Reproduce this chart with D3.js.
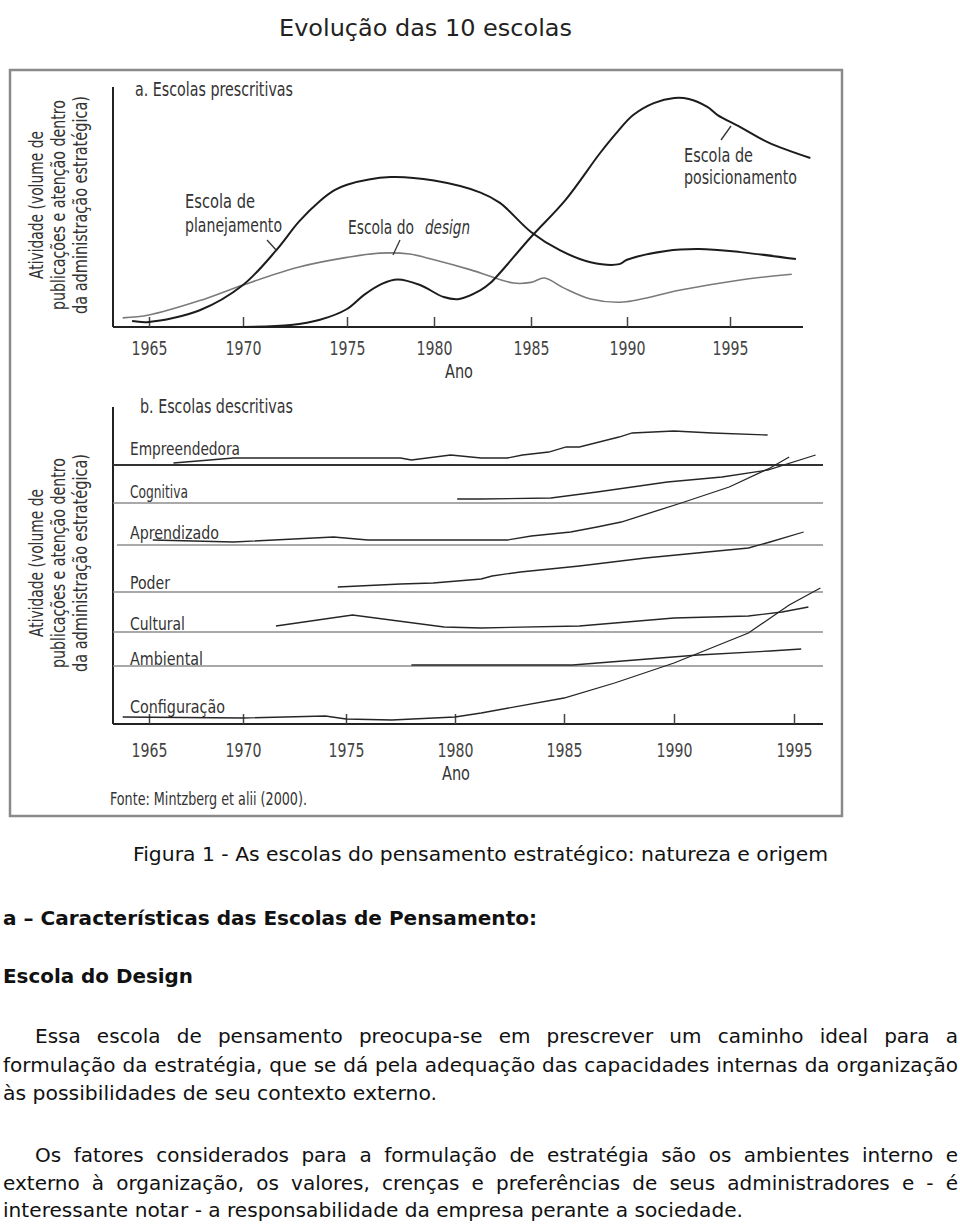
<!DOCTYPE html>
<html><head><meta charset="utf-8">
<script src="https://cdn.jsdelivr.net/npm/d3@7"></script>
<style>body{margin:0;background:#fff} svg{display:block}</style>
</head><body><svg id="c" width="960" height="1227"></svg>
<script>
// ---------------- DATA ----------------
const tickYears = [1965, 1970, 1975, 1980, 1985, 1990, 1995];
const tickLabels = ["1965", "1970", "1975", "1980", "1985", "1990", "1995"];

// a. Escolas prescritivas  [year, activity 0-100]
const planejamento = [[1964.1,2.5],[1965,2.1],[1967.7,7],[1970,17.5],[1971.6,32],[1972.7,44],[1973.7,52.5],[1974.4,57],[1975,59.3],[1977.5,62.5],[1980,61],[1982.4,56],[1983.4,51.7],[1985,39.6],[1986.5,32],[1988.1,27],[1989.6,26.2],[1990,28],[1991.9,31.7],[1993.5,32.5],[1995.5,31.2],[1998.2,28.3]];
const design = [[1963.6,3.8],[1965,5],[1967.7,11],[1970,17.5],[1972.7,25],[1975,29],[1976.9,30.8],[1978.6,30.4],[1980,28],[1981.9,23.8],[1984.1,18.3],[1985,18.6],[1985.7,20.4],[1986.7,16.3],[1988.1,11.7],[1989.8,10.4],[1992.6,15.4],[1995.5,19.6],[1998,22]];
const posicionamento = [[1970,0],[1972.3,0.8],[1973.7,3],[1975,7.5],[1976,13.5],[1977,18],[1977.9,19.8],[1979.2,17.5],[1980.5,12.5],[1981.3,11.7],[1982.4,15.4],[1982.9,18.3],[1985,37.5],[1986.8,53],[1988.6,72.5],[1989.5,81.3],[1990.3,88.3],[1991.3,93.3],[1992.3,95.4],[1993,95],[1993.9,91.7],[1994.4,88.3],[1995.5,83.3],[1996.9,76.7],[1998.9,70.4]];

// b. Escolas descritivas  [year, activity above own baseline]
const bandNames = ["Empreendedora","Cognitiva","Aprendizado","Poder","Cultural","Ambiental","Configuração"];
const empreendedora = [[1966.3,2],[1969.5,7],[1974.4,7],[1977.5,7],[1978,5],[1979.8,10],[1981.2,7],[1982.4,7],[1983.1,10],[1984.3,13],[1985.1,18],[1985.7,18],[1987.5,28],[1988.1,32],[1990,34],[1991.6,32],[1993.9,30]];
const cognitiva = [[1980.1,4],[1981.2,4],[1984.4,5],[1986.5,11],[1989.7,21],[1992,26],[1993.9,33],[1995.9,48]];
const aprendizado = [[1965.2,5],[1969.5,3],[1974.4,8],[1976,5],[1981.2,5],[1982.4,5],[1983.5,9],[1985.3,13],[1986.5,18],[1987.6,23],[1990.3,42],[1992.3,58],[1994,77],[1994.8,88]];
const poder = [[1974.6,5],[1977.5,8],[1979,9],[1981.2,13],[1981.7,16],[1983,20],[1985.7,26],[1988.7,34],[1993.1,44],[1994,50],[1995.4,60]];
const cultural = [[1971.6,6],[1975.3,17],[1979.5,5],[1981.2,4],[1985.7,6],[1990,14],[1993.1,16],[1994.5,20],[1995.6,25]];
const ambiental = [[1978,1],[1981.2,1],[1985.4,1],[1988.8,7],[1991,11],[1994,15],[1995.3,17]];
const configuracao = [[1963.6,7],[1970,6],[1974,8],[1975,5],[1977.1,4],[1980,7],[1981.2,11],[1985,26],[1987.3,41],[1990,61],[1993.1,91],[1994.8,119],[1996.1,136]];
const bandSeries = [empreendedora, cognitiva, aprendizado, poder, cultural, ambiental, configuracao];

// texts
const pageTitle = "Evolução das 10 escolas";
const yLabelLines = ["Atividade (volume de", "publicações e atenção dentro", "da administração estratégica)"];
const caption = "Figura 1 - As escolas do pensamento estratégico: natureza e origem";
const heading1 = "a – Características das Escolas de Pensamento:";
const heading2 = "Escola do Design";
const para1 = ["Essa escola de pensamento preocupa-se em prescrever um caminho ideal para a",
  "formulação da estratégia, que se dá pela adequação das capacidades internas da organização",
  "às possibilidades de seu contexto externo."];
const para2 = ["Os fatores considerados para a formulação de estratégia são os ambientes interno e",
  "externo à organização, os valores, crenças e preferências de seus administradores e - é",
  "interessante notar - a responsabilidade da empresa perante a sociedade."];

// ---------------- LAYOUT ----------------
const CF = '"Liberation Sans Narrow","Arial Narrow","DejaVu Sans Condensed",sans-serif';
const BF = '"DejaVu Sans",Verdana,sans-serif';
const ink = "#333";
const svg = d3.select("#c");

svg.append("text").attr("x", 279).attr("y", 36).attr("font-family", BF).attr("font-size", 23)
  .attr("fill", "#222").attr("textLength", 293).attr("lengthAdjust", "spacingAndGlyphs").text(pageTitle);

svg.append("rect").attr("x", 10).attr("y", 70).attr("width", 832).attr("height", 746)
  .attr("fill", "none").attr("stroke", "#8a8a8a").attr("stroke-width", 2.5);

function label(g, txt, x, y, len, opts = {}) {
  const t = g.append("text").attr("x", x).attr("y", y).attr("font-family", CF)
    .attr("font-stretch", "condensed").attr("font-size", opts.size || 19).attr("fill", opts.fill || ink);
  if (len) t.attr("textLength", len).attr("lengthAdjust", "spacingAndGlyphs");
  if (opts.anchor) t.attr("text-anchor", opts.anchor);
  if (opts.italic) t.attr("font-style", "italic");
  t.text(txt);
  return t;
}

function yLabel(cy) {
  const xs = [43, 65, 87], lens = [148, 210, 218];
  yLabelLines.forEach((s, i) => {
    svg.append("text").attr("transform", `translate(${xs[i]},${cy}) rotate(-90)`)
      .attr("text-anchor", "middle").attr("font-family", CF).attr("font-stretch", "condensed")
      .attr("font-size", 19.5).attr("fill", ink)
      .attr("textLength", lens[i]).attr("lengthAdjust", "spacingAndGlyphs").text(s);
  });
}

function xAxis(scale, axisY, padding) {
  const g = svg.append("g").attr("transform", `translate(0,${axisY})`)
    .call(d3.axisBottom(scale).tickValues(tickYears).tickFormat((d, i) => tickLabels[i])
      .tickSize(-10).tickPadding(padding));
  g.select(".domain").remove();
  g.selectAll(".tick line").attr("stroke", "#444").attr("stroke-width", 1.5);
  g.selectAll(".tick text").attr("font-family", CF).attr("font-stretch", "condensed")
    .attr("font-size", 20).attr("fill", "#444")
    .attr("textLength", 36).attr("lengthAdjust", "spacingAndGlyphs");
  return g;
}

// ---------- Panel a ----------
const xA = d3.scaleLinear().domain(tickYears).range([149, 243, 347, 434, 531, 627, 730]);
const yA = d3.scaleLinear().domain([0, 100]).range([327, 87]);
yLabel(205);
label(svg, "a. Escolas prescritivas", 135, 96, 158);
svg.append("line").attr("x1", 113).attr("x2", 113).attr("y1", 87).attr("y2", yA(0)).attr("stroke", "#222").attr("stroke-width", 2);
svg.append("line").attr("x1", 113).attr("x2", 803).attr("y1", yA(0)).attr("y2", yA(0)).attr("stroke", "#222").attr("stroke-width", 2);
xAxis(xA, yA(0), 14);
label(svg, "Ano", 445, 378, 28);

const lineA = d3.line().x(d => xA(d[0])).y(d => yA(d[1])).curve(d3.curveCatmullRom.alpha(0.5));
svg.append("path").attr("d", lineA(design)).attr("fill", "none").attr("stroke", "#7a7a7a").attr("stroke-width", 1.6);
svg.append("path").attr("d", lineA(planejamento)).attr("fill", "none").attr("stroke", "#1c1c1c").attr("stroke-width", 2);
svg.append("path").attr("d", lineA(posicionamento)).attr("fill", "none").attr("stroke", "#1c1c1c").attr("stroke-width", 2);

label(svg, "Escola de", 185, 208, 70);
label(svg, "planejamento", 185, 232, 97);
label(svg, "Escola do", 348, 234, 66);
label(svg, "design", 425, 234, 45, { italic: true });
label(svg, "Escola de", 684, 162, 69);
label(svg, "posicionamento", 684, 184, 113);
const leaders = [[267, 240, 277, 251], [400, 240, 393, 255], [721, 140, 731, 126]];
leaders.forEach(l => svg.append("line").attr("x1", l[0]).attr("y1", l[1]).attr("x2", l[2]).attr("y2", l[3])
  .attr("stroke", "#333").attr("stroke-width", 1.3));

// ---------- Panel b ----------
const xB = d3.scaleLinear().domain(tickYears).range([149, 243, 346, 455, 564, 674, 794]);
const bandBase = [465, 503, 545, 592, 632, 666, 724];
const bandLabelY = [455, 498, 539, 589, 630, 665, 713];
const bandLabelLen = [110, 58, 89, 40, 55, 73, 95];
const act = d3.scaleLinear().domain([0, 100]).range([0, 100]);
yLabel(563);
label(svg, "b. Escolas descritivas", 140, 413, 153);
svg.append("line").attr("x1", 113).attr("x2", 113).attr("y1", 407).attr("y2", 724).attr("stroke", "#222").attr("stroke-width", 2);
bandBase.slice(0, 6).forEach((b, i) => svg.append("line").attr("x1", i === 2 ? 117 : 113).attr("x2", 823)
  .attr("y1", b).attr("y2", b).attr("stroke", i === 0 ? "#333" : "#8c8c8c").attr("stroke-width", i === 0 ? 2.2 : 1.7));
svg.append("line").attr("x1", 113).attr("x2", 823).attr("y1", 724).attr("y2", 724).attr("stroke", "#222").attr("stroke-width", 2);
xAxis(xB, 724, 19);
label(svg, "Ano", 442, 780, 28);
label(svg, "Fonte: Mintzberg et alii (2000).", 110, 805, 197, { size: 18 });

bandNames.forEach((n, i) => label(svg, n, 130, bandLabelY[i], bandLabelLen[i], { size: 18.5 }));
bandSeries.forEach((s, i) => {
  const ln = d3.line().x(d => xB(d[0])).y(d => bandBase[i] - act(d[1])).curve(d3.curveLinear);
  svg.append("path").attr("d", ln(s)).attr("fill", "none").attr("stroke", "#262626").attr("stroke-width", 1.3);
});

// ---------- Text below ----------
function plain(txt, x, y, opts = {}) {
  const t = svg.append("text").attr("x", x).attr("y", y).attr("font-family", BF)
    .attr("font-size", 20).attr("fill", "#111").attr("font-weight", opts.bold ? "bold" : "normal");
  if (opts.len) t.attr("textLength", opts.len).attr("lengthAdjust", "spacingAndGlyphs");
  t.text(txt);
}
function justified(txt, x0, x1, y) {
  const words = txt.split(" ");
  const ts = words.map(w => svg.append("text").attr("y", y).attr("font-family", BF)
    .attr("font-size", 20).attr("fill", "#111").text(w));
  const ws = ts.map(t => t.node().getComputedTextLength());
  const gap = (x1 - x0 - d3.sum(ws)) / (words.length - 1);
  let x = x0;
  ts.forEach((t, i) => { t.attr("x", x); x += ws[i] + gap; });
}
plain(caption, 133, 861, { len: 695 });
plain(heading1, 3, 925, { bold: true, len: 534 });
plain(heading2, 3, 983, { bold: true, len: 190 });
justified(para1[0], 35, 958, 1043);
justified(para1[1], 3, 958, 1072);
plain(para1[2], 3, 1100, { len: 434 });
justified(para2[0], 35, 958, 1162);
justified(para2[1], 3, 958, 1190);
plain(para2[2], 3, 1217, { len: 740 });
</script></body></html>
